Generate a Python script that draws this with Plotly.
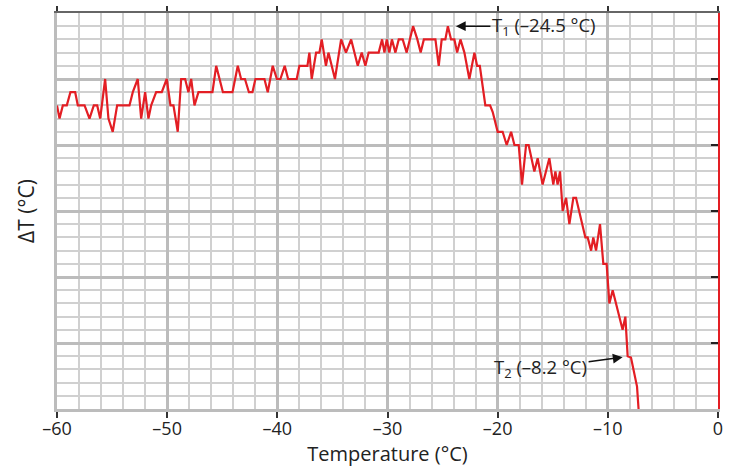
import plotly.graph_objects as go

# Temperature (°C)
temperature = [
    -60.0, -59.77, -59.47, -59.11, -58.78, -58.35, -58.11, -57.50, -57.05, -56.66,
    -56.35, -56.08, -55.63, -55.33, -54.94, -54.54, -53.42, -53.12, -52.67, -52.36,
    -52.00, -51.70, -51.45, -51.00, -50.49, -50.04, -49.70, -49.43, -49.04, -48.73,
    -48.37, -48.07, -47.82, -47.52, -47.16, -45.89, -45.55, -44.94, -44.07, -43.59,
    -43.29, -42.94, -42.58, -42.26, -41.99, -41.17, -40.87, -40.42, -40.04, -39.72,
    -39.33, -39.02, -38.24, -38.00, -37.27, -37.09, -36.88, -36.48, -36.18, -35.97,
    -35.59, -35.36, -34.77, -34.21, -33.77, -33.30, -32.70, -32.34, -32.01, -31.71,
    -30.80, -30.49, -30.28, -30.07, -29.83, -29.60, -29.28, -28.98, -28.62, -28.26,
    -27.68, -27.29, -26.99, -26.70, -25.65, -25.35, -25.08, -24.75, -24.52, -24.23,
    -23.93, -23.68, -23.38, -23.02, -22.57, -22.11, -21.87, -21.62, -21.12, -20.69,
    -20.45, -20.00, -19.55, -19.18, -18.78, -18.48, -18.09, -17.79, -17.42, -17.19,
    -16.67, -16.37, -15.92, -15.31, -14.95, -14.76, -14.56, -14.34, -14.10, -13.79,
    -13.49, -13.13, -12.89, -12.04, -11.83, -11.52, -11.32, -11.07, -10.71, -10.41,
    -10.11, -9.86, -9.56, -9.02, -8.66, -8.41, -8.20, -7.90, -7.60, -7.35, -7.21,
]

# ΔT (arbitrary grid units, 0 at bottom, 30 at top)
delta_t = [
    23, 22, 23, 23, 24, 24, 23, 23, 22, 23,
    23, 22, 25, 22, 21, 23, 23, 24, 25, 22,
    24, 22, 23, 24, 24, 25, 23, 23, 21, 25,
    25, 24, 25, 23, 24, 24, 26, 24, 24, 26,
    25, 25, 24, 24, 25, 25, 24, 26, 25, 25,
    26, 25, 25, 26, 26, 27, 25, 27, 27, 28,
    26, 27, 25, 28, 27, 28, 26, 27, 26, 27,
    27, 28, 27, 28, 27, 28, 27, 28, 28, 27,
    29, 28, 27, 28, 28, 26, 28, 28, 29, 28,
    28, 27, 28, 27, 25, 27, 26, 26, 23, 23,
    22.5, 21, 21, 20, 21, 20, 20, 17, 20, 20,
    18, 19, 17, 19, 17, 18, 17, 18, 15, 16,
    14, 16, 16, 13, 13, 12, 13, 12, 14, 11,
    11, 8, 9, 7.25, 6, 7, 4, 3.9, 2.7, 1.7, 0,
]

x_tick_vals = [-60, -50, -40, -30, -20, -10, 0]
x_tick_text = ["–60", "–50", "–40", "–30", "–20", "–10", "0"]
y_major_ticks = [0, 5, 10, 15, 20, 25, 30]

t1_label = "T<sub>1</sub> (–24.5 °C)"
t1_point = (-23.79, 29.0)
t2_label = "T<sub>2</sub> (–8.2 °C)"
t2_point = (-8.66, 3.92)

FONT = "Open Sans"
RED = "#e31e24"
GRID_MINOR = "#d0d0d0"
GRID_MAJOR = "#bcbcbc"

fig = go.Figure()

fig.add_trace(go.Scatter(
    x=temperature, y=delta_t, mode="lines",
    line=dict(color=RED, width=2.2), showlegend=False, hoverinfo="skip",
))
# invisible trace to instantiate the overlay axes (top / right)
fig.add_trace(go.Scatter(
    x=[None], y=[None], xaxis="x2", yaxis="y2",
    showlegend=False, hoverinfo="skip",
))

fig.update_layout(
    width=731, height=467,
    margin=dict(l=57, r=13, t=13, b=58, autoexpand=False),
    paper_bgcolor="white", plot_bgcolor="white",
    font=dict(family=FONT, size=18, color="#222"),
    xaxis=dict(
        range=[-60, 0], tickmode="array", tickvals=x_tick_vals, ticktext=x_tick_text,
        showgrid=True, gridcolor=GRID_MAJOR, gridwidth=2.5,
        minor=dict(dtick=2, tick0=0, showgrid=True, gridcolor=GRID_MINOR, gridwidth=1.6),
        showline=True, linecolor=GRID_MAJOR, linewidth=2.5,
        ticks="outside", ticklen=6, tickwidth=1.5, tickcolor="#333",
        ticklabelstandoff=-4,
        tickfont=dict(size=18, color="#222"),
        title=dict(text="Temperature (°C)", font=dict(size=20, color="#222"), standoff=3),
        zeroline=False, fixedrange=True, automargin=False,
    ),
    yaxis=dict(
        range=[0, 30], tickmode="linear", tick0=0, dtick=5,
        showticklabels=False, ticks="",
        showgrid=True, gridcolor=GRID_MAJOR, gridwidth=2.5,
        minor=dict(dtick=1, tick0=0, showgrid=True, gridcolor=GRID_MINOR, gridwidth=1.6),
        showline=True, linecolor=GRID_MAJOR, linewidth=2.5,
        title=dict(text="ΔT (°C)", font=dict(size=21, color="#222"), standoff=14),
        zeroline=False, fixedrange=True, automargin=False,
    ),
    xaxis2=dict(
        overlaying="x", side="top", anchor="y2", range=[-60, 0],
        tickmode="array", tickvals=x_tick_vals, showticklabels=False,
        ticks="outside", ticklen=5, tickwidth=1.5, tickcolor="#333",
        showline=True, linecolor="#666", linewidth=2,
        showgrid=False, zeroline=False, fixedrange=True, automargin=False,
    ),
    yaxis2=dict(
        overlaying="y", side="right", anchor="x2", range=[0, 30],
        tickmode="array", tickvals=y_major_ticks, showticklabels=False,
        ticks="inside", ticklen=7, tickwidth=1.5, tickcolor="#222",
        showline=True, linecolor=RED, linewidth=2,
        showgrid=False, zeroline=False, fixedrange=True, automargin=False,
    ),
    annotations=[
        dict(x=t1_point[0], y=t1_point[1], xref="x", yref="y",
             text=t1_label, showarrow=True, ax=88, ay=0,
             arrowhead=2, arrowsize=1.3, arrowwidth=1.5, arrowcolor="#111",
             font=dict(size=18.5, color="#222")),
        dict(x=t2_point[0], y=t2_point[1], xref="x", yref="y",
             text=t2_label, showarrow=True, ax=-82, ay=11,
             arrowhead=2, arrowsize=1.3, arrowwidth=1.5, arrowcolor="#111",
             font=dict(size=18.5, color="#222")),
    ],
)

fig.write_html(
    "out.html",
    config={"displayModeBar": False},
    post_script="document.body.style.margin='0';document.body.style.padding='0';",
)
